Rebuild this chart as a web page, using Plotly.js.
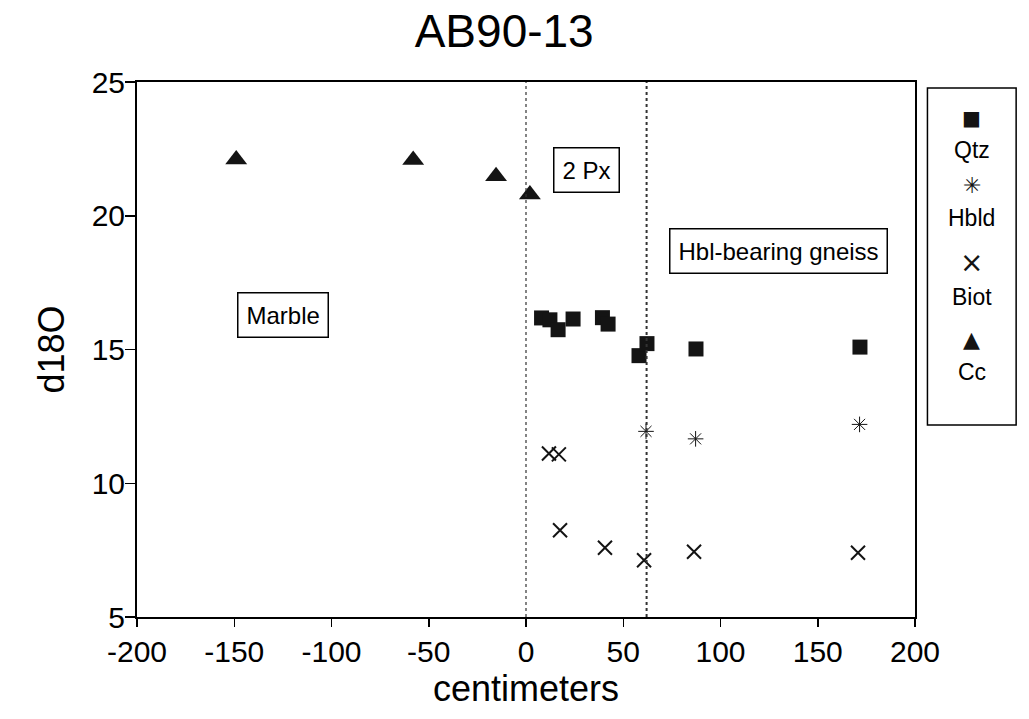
<!DOCTYPE html>
<html>
<head>
<meta charset="utf-8">
<script src="https://cdn.plot.ly/plotly-3.0.1.min.js"></script>
<style>html,body{margin:0;padding:0;background:#fff;}#chart{width:1029px;height:719px;}</style>
</head>
<body>
<div id="chart"></div>
<script>
// ---- data ----
const qtzX  = [8, 12.3, 16.5, 24.2, 39.3, 42.2, 58.1, 62.2, 87.4, 171.7];
const qtzY  = [16.18, 16.11, 15.74, 16.14, 16.19, 15.95, 14.77, 15.22, 15.02, 15.09];
const hbldX = [61.7, 87.2, 171.5];
const hbldY = [11.94, 11.66, 12.2];
const biotX = [11.8, 16.9, 17.5, 40.6, 60.7, 86.4, 170.7];
const biotY = [11.11, 11.08, 8.24, 7.59, 7.12, 7.44, 7.4];
const ccX   = [-149, -58, -15.4, 2];
const ccY   = [22.1, 22.08, 21.48, 20.79];
const boundaries = [0, 62];
const zoneLabels = ["Marble", "2 Px", "Hbl-bearing gneiss"];
const zoneLabelX = [-125, 31, 130];
const zoneLabelY = [16.3, 21.7, 18.7];
const seriesNames = ["Qtz", "Hbld", "Biot", "Cc"];
const legendGlyphs = ["\u25A0", "\u2733\uFE0E", "\u00D7", "\u25B2"];
const xTickVals = [-200, -150, -100, -50, 0, 50, 100, 150, 200];
const xTickText = ["-200", "-150", "-100", "-50", "0", "50", "100", "150", "200"];
const yTickVals = [5, 10, 15, 20, 25];
const yTickText = ["5", "10", "15", "20", "25"];

const FONT = "Liberation Sans, Arial, Helvetica, sans-serif";
const INK = "#141414";

const traces = [
  {x: qtzX, y: qtzY, name: seriesNames[0], mode: "markers", type: "scatter",
   marker: {symbol: "square", size: 15, color: INK, line: {width: 0}}},
  {x: hbldX, y: hbldY, name: seriesNames[1], mode: "markers", type: "scatter",
   marker: {symbol: "asterisk-open", size: 13, color: INK, line: {width: 1, color: INK}}},
  {x: biotX, y: biotY, name: seriesNames[2], mode: "markers", type: "scatter",
   marker: {symbol: "x-thin-open", size: 14, color: INK, line: {width: 2, color: INK}}},
  {x: ccX, y: ccY, name: seriesNames[3], mode: "markers", type: "scatter",
   marker: {symbol: "triangle-up", size: 19, color: INK, line: {width: 0}}}
];

const shapes = boundaries.map((b, i) => ({
  type: "line", xref: "x", yref: "paper", x0: b, x1: b, y0: 0, y1: 1,
  line: {color: "#333", width: i === 0 ? 1.2 : 2, dash: "dot"}
}));
// legend frame
shapes.push({type: "rect", xref: "paper", yref: "paper", x0: 1.016, x1: 1.13, y0: 0.359, y1: 0.989,
  line: {color: "#000", width: 1.5}, fillcolor: "rgba(0,0,0,0)"});

const annotations = zoneLabels.map((t, i) => ({
  x: zoneLabelX[i], y: zoneLabelY[i], xref: "x", yref: "y", text: t, showarrow: false,
  xanchor: "center", yanchor: "middle",
  font: {family: FONT, size: 24, color: "#000"},
  bordercolor: "#000", borderwidth: 1.5, borderpad: 8, bgcolor: "#fff"
}));

const glyphY = [0.933, 0.807, 0.662, 0.518];
const labelY = [0.873, 0.746, 0.598, 0.458];
const glyphSize = [20, 22, 28, 22];
seriesNames.forEach((n, i) => {
  annotations.push({x: 1.073, y: glyphY[i], xref: "paper", yref: "paper", text: legendGlyphs[i],
    xanchor: "center", yanchor: "middle",
    showarrow: false, font: {family: "DejaVu Sans", size: glyphSize[i], color: INK}});
  annotations.push({x: 1.073, y: labelY[i], xref: "paper", yref: "paper", text: n,
    xanchor: "center", yanchor: "middle",
    showarrow: false, font: {family: FONT, size: 23, color: "#000"}});
});

const layout = {
  width: 1029, height: 719,
  margin: {l: 137, r: 114, t: 82, b: 102},
  paper_bgcolor: "#fff", plot_bgcolor: "#fff",
  showlegend: false,
  font: {family: FONT, color: "#000"},
  title: {text: "AB90-13", x: 0.49, xref: "container", xanchor: "center",
          y: 0.957, yref: "container", yanchor: "middle",
          font: {family: FONT, size: 46, color: "#000"}},
  xaxis: {range: [-200, 200], tickmode: "array", tickvals: xTickVals, ticktext: xTickText,
          ticks: "outside", ticklen: 8, tickwidth: 1.5,
          tickcolor: "#000", showline: true, linewidth: 2, linecolor: "#000", mirror: true,
          showgrid: false, zeroline: false, tickfont: {family: FONT, size: 30, color: "#000"},
          ticklabelstandoff: -1,
          title: {text: "centimeters", font: {family: FONT, size: 36, color: "#000"}, standoff: 0}},
  yaxis: {range: [5, 25], tickmode: "array", tickvals: yTickVals, ticktext: yTickText,
          ticks: "outside", ticklen: 10, tickwidth: 1.5,
          tickcolor: "#000", showline: true, linewidth: 2, linecolor: "#000", mirror: true,
          showgrid: false, zeroline: false, tickfont: {family: FONT, size: 30, color: "#000"},
          ticklabelstandoff: -6,
          title: {text: "d18O", font: {family: FONT, size: 36, color: "#000"}, standoff: 16}},
  shapes: shapes,
  annotations: annotations
};

Plotly.newPlot("chart", traces, layout, {displayModeBar: false, staticPlot: true});
</script>
</body>
</html>
